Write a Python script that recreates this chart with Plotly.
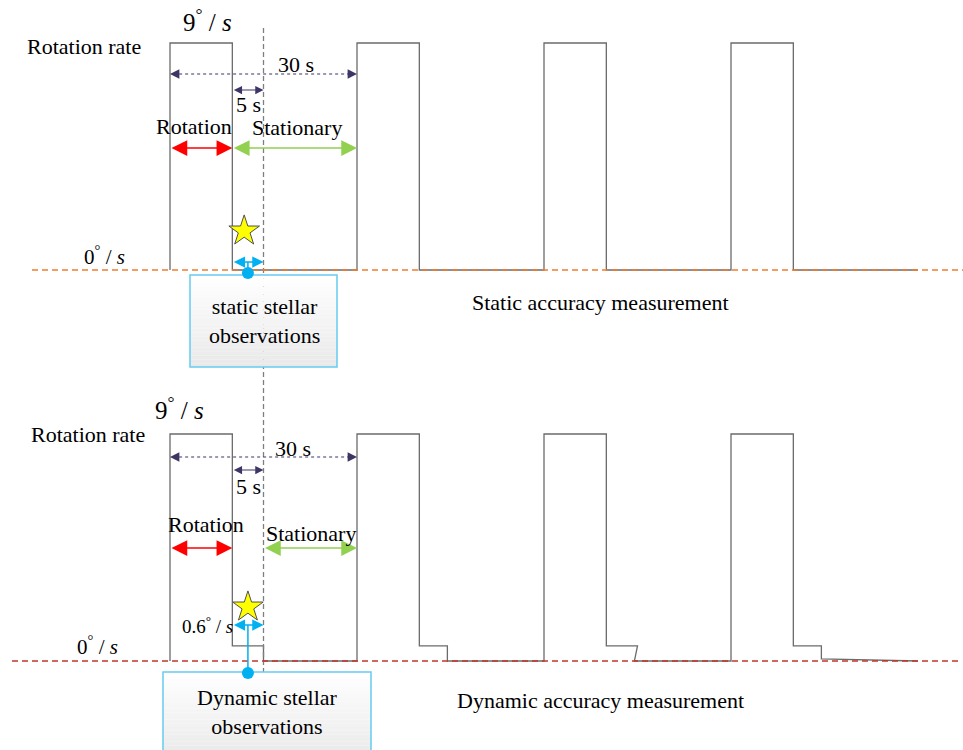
import plotly.graph_objects as go

# Cycle timing (seconds) and rotation rates (deg/s)
PERIOD = 30
ROTATION = 10
WINDOW = 5
RATE_MAX = 9
RATE_RESIDUAL = 0.6
CYCLE_STARTS = [0, 30, 60, 90]

# Static accuracy test: rate drops straight to zero after each rotation
static_time = [0, 0, 10, 10, 30, 30, 40, 40, 60, 60, 70, 70, 90, 90, 100, 100, 120]
static_rate = [0, 9, 9, 0, 0, 9, 9, 0, 0, 9, 9, 0, 0, 9, 9, 0, 0]

# Dynamic accuracy test: a residual rate persists for a few seconds after each rotation
dynamic_time = [0, 0, 10, 10, 15, 15, 30, 30, 40, 40, 44.5, 44.5,
                60, 60, 70, 70, 75, 74.5, 90, 90, 100, 100, 104.5, 104.5, 120]
dynamic_rate = [0, 9, 9, 0.6, 0.6, 0, 0, 9, 9, 0.6, 0.6, 0,
                 0, 9, 9, 0.6, 0.6, 0, 0, 9, 9, 0.6, 0.6, 0.08, 0]

# ---- page geometry helpers -------------------------------------------------
W_PX, H_PX = 963, 750
X0_PX = 170                    # column of t = 0
PX_PER_S = 187 / PERIOD
UNIT_PX = 227 / RATE_MAX       # pixels per deg/s
TOP_BASE_PX, BOT_BASE_PX = 270, 661

def paper_x(px):
    return px / W_PX

def paper_y(py):
    return 1 - py / H_PX

def top_val(py):
    return (TOP_BASE_PX - py) / UNIT_PX

def bot_val(py):
    return (BOT_BASE_PX - py) / UNIT_PX

SERIF = "Liberation Serif"
WAVE = "#6b6b6b"
DIM = "#3d3565"
RED = "#ff0000"
GREEN = "#92d050"
CYAN = "#00b0f0"
DEG = "<sup>°</sup>"

fig = go.Figure()

fig.add_trace(go.Scatter(x=static_time, y=static_rate, mode="lines",
                         line=dict(color=WAVE, width=1.3), yaxis="y",
                         hoverinfo="skip", showlegend=False))
fig.add_trace(go.Scatter(x=dynamic_time, y=dynamic_rate, mode="lines",
                         line=dict(color=WAVE, width=1.3), yaxis="y2",
                         hoverinfo="skip", showlegend=False))

obs_mid = ROTATION + WINDOW / 2
obs_end = ROTATION + WINDOW

# Star markers: the moment a star image is taken
fig.add_trace(go.Scatter(x=[obs_mid - 0.6], y=[top_val(231)], mode="markers",
                         marker=dict(symbol="star", size=23, color="#ffff00",
                                     line=dict(color="#505050", width=1)),
                         yaxis="y", hoverinfo="skip", showlegend=False))
fig.add_trace(go.Scatter(x=[obs_mid], y=[bot_val(607)], mode="markers",
                         marker=dict(symbol="star", size=23, color="#ffff00",
                                     line=dict(color="#505050", width=1)),
                         yaxis="y2", hoverinfo="skip", showlegend=False))

shapes = []

# Observation instant shared by both tests
shapes.append(dict(type="line", xref="x", yref="paper", x0=obs_end, x1=obs_end,
                   y0=paper_y(28), y1=paper_y(672),
                   line=dict(color="#7f7f7f", width=1.3, dash="5px,3px")))

# Zero-rate reference lines
shapes.append(dict(type="line", xref="paper", yref="y", x0=paper_x(32), x1=1,
                   y0=0, y1=0, line=dict(color="#ed7d31", width=1.3, dash="6px,4px")))
shapes.append(dict(type="line", xref="paper", yref="y2", x0=paper_x(12), x1=paper_x(958),
                   y0=0, y1=0, line=dict(color="#c0392b", width=1.3, dash="6px,4px")))

# Dotted 30 s period dimension lines
for ypx in (74, 457):
    shapes.append(dict(type="line", xref="x", yref="paper", x0=CYCLE_STARTS[0] + 0.5,
                       x1=CYCLE_STARTS[1] - 0.5, y0=paper_y(ypx), y1=paper_y(ypx),
                       line=dict(color=DIM, width=1.2, dash="dot")))


def add_box(x0, x1, y0, y1):
    n = 24
    for i in range(n):
        f = i / (n - 1)
        g = int(round(255 - 22 * f))
        shapes.append(dict(type="rect", xref="paper", yref="paper",
                           x0=paper_x(x0), x1=paper_x(x1),
                           y0=paper_y(y0 + (y1 - y0) * i / n),
                           y1=paper_y(y0 + (y1 - y0) * (i + 1) / n),
                           line=dict(width=0), fillcolor=f"rgb({g},{g},{g})"))
    shapes.append(dict(type="rect", xref="paper", yref="paper",
                       x0=paper_x(x0), x1=paper_x(x1), y0=paper_y(y0), y1=paper_y(y1),
                       line=dict(color="#66ccf2", width=1.5), fillcolor="rgba(0,0,0,0)"))


add_box(190, 337, 275, 367)
add_box(163, 371, 672, 760)

# Stems and anchor dots linking the observation window to its caption box
for y_top, y_dot in ((262, 273), (625, 673)):
    shapes.append(dict(type="line", xref="x", yref="paper", x0=obs_mid, x1=obs_mid,
                       y0=paper_y(y_top), y1=paper_y(y_dot), line=dict(color=CYAN, width=1.5)))
    shapes.append(dict(type="circle", xref="x", yref="paper", xsizemode="pixel",
                       ysizemode="pixel", xanchor=obs_mid, yanchor=paper_y(y_dot),
                       x0=-6, x1=6, y0=-6, y1=6, fillcolor=CYAN, line=dict(color=CYAN, width=0)))

annotations = []


def dbl_arrow(xa, xb, ypx, color, width, size):
    annotations.append(dict(x=xb, y=paper_y(ypx), xref="x", yref="paper",
                            ax=xa, ay=0, axref="x", ayref="pixel", text="",
                            showarrow=True, arrowside="end+start",
                            arrowhead=2, startarrowhead=2,
                            arrowsize=size, startarrowsize=size,
                            arrowwidth=width, arrowcolor=color))


def head(x, ypx, direction, color):
    annotations.append(dict(x=x, y=paper_y(ypx), xref="x", yref="paper",
                            ax=8 * direction, ay=0, axref="pixel", ayref="pixel",
                            text="", showarrow=True, arrowhead=2, arrowsize=1.7,
                            arrowwidth=1.1, arrowcolor=color))


def label(text, xpx, ypx, size=22):
    annotations.append(dict(x=paper_x(xpx), y=paper_y(ypx), xref="paper", yref="paper",
                            text=text, showarrow=False, xanchor="center", yanchor="middle",
                            font=dict(family=SERIF, size=size, color="#000000")))


# Static accuracy panel
head(CYCLE_STARTS[0], 74, 1, DIM)
head(CYCLE_STARTS[1], 74, -1, DIM)
dbl_arrow(ROTATION, obs_end, 90, DIM, 1.1, 1.5)
dbl_arrow(CYCLE_STARTS[0], ROTATION, 148, RED, 1.5, 2.1)
dbl_arrow(ROTATION, PERIOD, 148, GREEN, 1.5, 2.1)
dbl_arrow(ROTATION, obs_end, 262, CYAN, 1.5, 1.5)

label(f"{RATE_MAX}{DEG} / <i>s</i>", 207, 20, 25)
label("Rotation rate", 84, 46)
label("30 s", 296, 64)
label("5 s", 249, 104)
label("Rotation", 194, 126)
label("Stationary", 297, 127)
label(f"0{DEG} / <i>s</i>", 104, 256, 21)
label("static stellar<br>observations", 264, 321)
label("Static accuracy measurement", 600, 302)

# Dynamic accuracy panel
head(CYCLE_STARTS[0], 457, 1, DIM)
head(CYCLE_STARTS[1], 457, -1, DIM)
dbl_arrow(ROTATION, obs_end, 470, DIM, 1.1, 1.5)
dbl_arrow(CYCLE_STARTS[0], ROTATION, 548, RED, 1.5, 2.1)
dbl_arrow(obs_end, PERIOD, 548, GREEN, 1.5, 2.1)
dbl_arrow(ROTATION, obs_end, 625, CYAN, 1.5, 1.5)

label(f"{RATE_MAX}{DEG} / <i>s</i>", 179, 408, 25)
label("Rotation rate", 88, 434)
label("30 s", 293, 448)
label("5 s", 249, 486)
label("Rotation", 206, 524)
label("Stationary", 311, 533)
label(f"{RATE_RESIDUAL}{DEG} / <i>s</i>", 207, 625, 19)
label(f"0{DEG} / <i>s</i>", 97, 645, 21)
label("Dynamic stellar<br>observations", 267, 712)
label("Dynamic accuracy measurement", 600, 700)

x_range = [-X0_PX / PX_PER_S, (W_PX - X0_PX) / PX_PER_S]
y_top_range = [(TOP_BASE_PX - H_PX) / UNIT_PX, TOP_BASE_PX / UNIT_PX]
y_bot_range = [(BOT_BASE_PX - H_PX) / UNIT_PX, BOT_BASE_PX / UNIT_PX]

axis_off = dict(visible=False, showgrid=False, zeroline=False, fixedrange=True)
fig.update_layout(
    width=W_PX, height=H_PX,
    margin=dict(l=0, r=0, t=0, b=0),
    paper_bgcolor="white", plot_bgcolor="white",
    xaxis=dict(range=x_range, domain=[0, 1], **axis_off),
    yaxis=dict(range=y_top_range, domain=[0, 1], **axis_off),
    yaxis2=dict(range=y_bot_range, overlaying="y", **axis_off),
    shapes=shapes,
    annotations=annotations,
    showlegend=False,
)

fig.write_html("out.html", config={"displayModeBar": False})
